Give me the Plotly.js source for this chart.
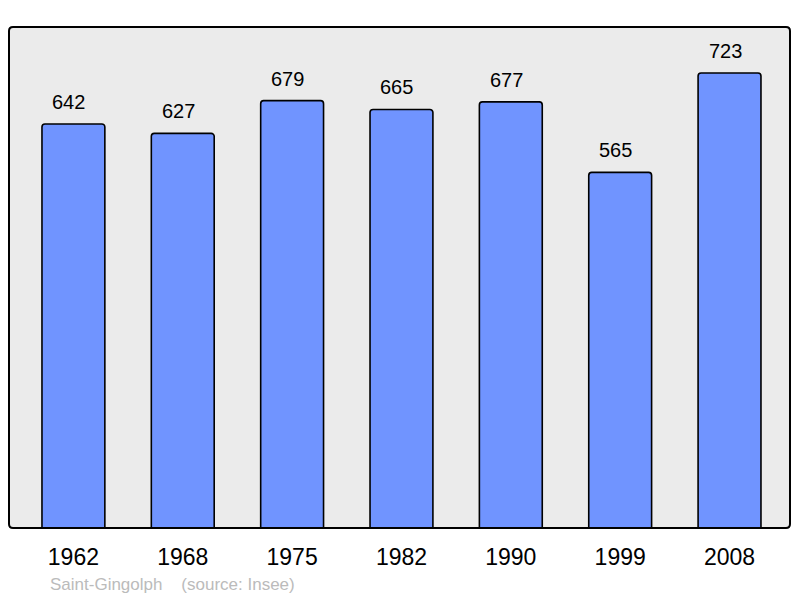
<!DOCTYPE html>
<html><head><meta charset="utf-8">
<script src="https://cdn.plot.ly/plotly-3.0.1.min.js"></script>
<style>html,body{margin:0;padding:0;background:#fff;}#chart{width:800px;height:598px;}</style>
</head><body><div id="chart"></div>
<script>
const years = ['1962','1968','1975','1982','1990','1999','2008'];
const population = [642, 627, 679, 665, 677, 565, 723];
const footerText = 'Saint-Gingolph\u00a0\u00a0\u00a0\u00a0(source: Insee)';

const W = 800, H = 598;
const margin = {l: 9, r: 10, t: 27, b: 70, pad: 0};
const pw = W - margin.l - margin.r, ph = H - margin.t - margin.b;
const rx = 4 / pw, ry = 4 / ph;
const framePath = `M ${rx} 0 L ${1-rx} 0 Q 1 0 1 ${ry} L 1 ${1-ry} Q 1 1 ${1-rx} 1 L ${rx} 1 Q 0 1 0 ${1-ry} L 0 ${ry} Q 0 0 ${rx} 0 Z`;
const FONT = 'Liberation Sans, Arial, sans-serif';

const trace = {
  type: 'bar', x: years, y: population,
  width: 0.575,
  marker: {color: '#7094ff', line: {color: '#000', width: 1.6}, cornerradius: 3},
  hoverinfo: 'none'
};

const annotations = years.map((yr, i) => ({
  x: i, y: population[i], xref: 'x', yref: 'y', text: String(population[i]),
  showarrow: false, yanchor: 'middle', xanchor: 'center', yshift: 22, xshift: -4.5,
  font: {family: FONT, size: 20, color: '#000'}
}));
annotations.push({
  xref: 'paper', yref: 'paper', x: (48 - margin.l) / pw, y: -(584 - margin.t - ph) / ph,
  xanchor: 'left', yanchor: 'middle', showarrow: false, text: footerText,
  font: {family: FONT, size: 17, color: '#bbbbbb'}
});

const layout = {
  width: W, height: H, margin: margin,
  paper_bgcolor: '#ffffff', plot_bgcolor: 'rgba(0,0,0,0)',
  showlegend: false,
  xaxis: {type: 'category', range: [-0.589, 6.553], showgrid: false, zeroline: false, showline: false,
    ticks: '', ticklabelstandoff: 13, fixedrange: true,
    tickfont: {family: FONT, size: 23, color: '#000'}},
  yaxis: {range: [0, 796], showgrid: false, zeroline: false, showline: false, showticklabels: false, ticks: '', fixedrange: true},
  shapes: [
    {type: 'path', xref: 'paper', yref: 'paper', path: framePath, fillcolor: '#ebebeb', line: {width: 0}, layer: 'below'},
    {type: 'path', xref: 'paper', yref: 'paper', path: framePath, fillcolor: 'rgba(0,0,0,0)', line: {color: '#000', width: 2}, layer: 'above'}
  ],
  annotations: annotations
};
Plotly.newPlot('chart', [trace], layout, {staticPlot: true, displayModeBar: false});
</script></body></html>
